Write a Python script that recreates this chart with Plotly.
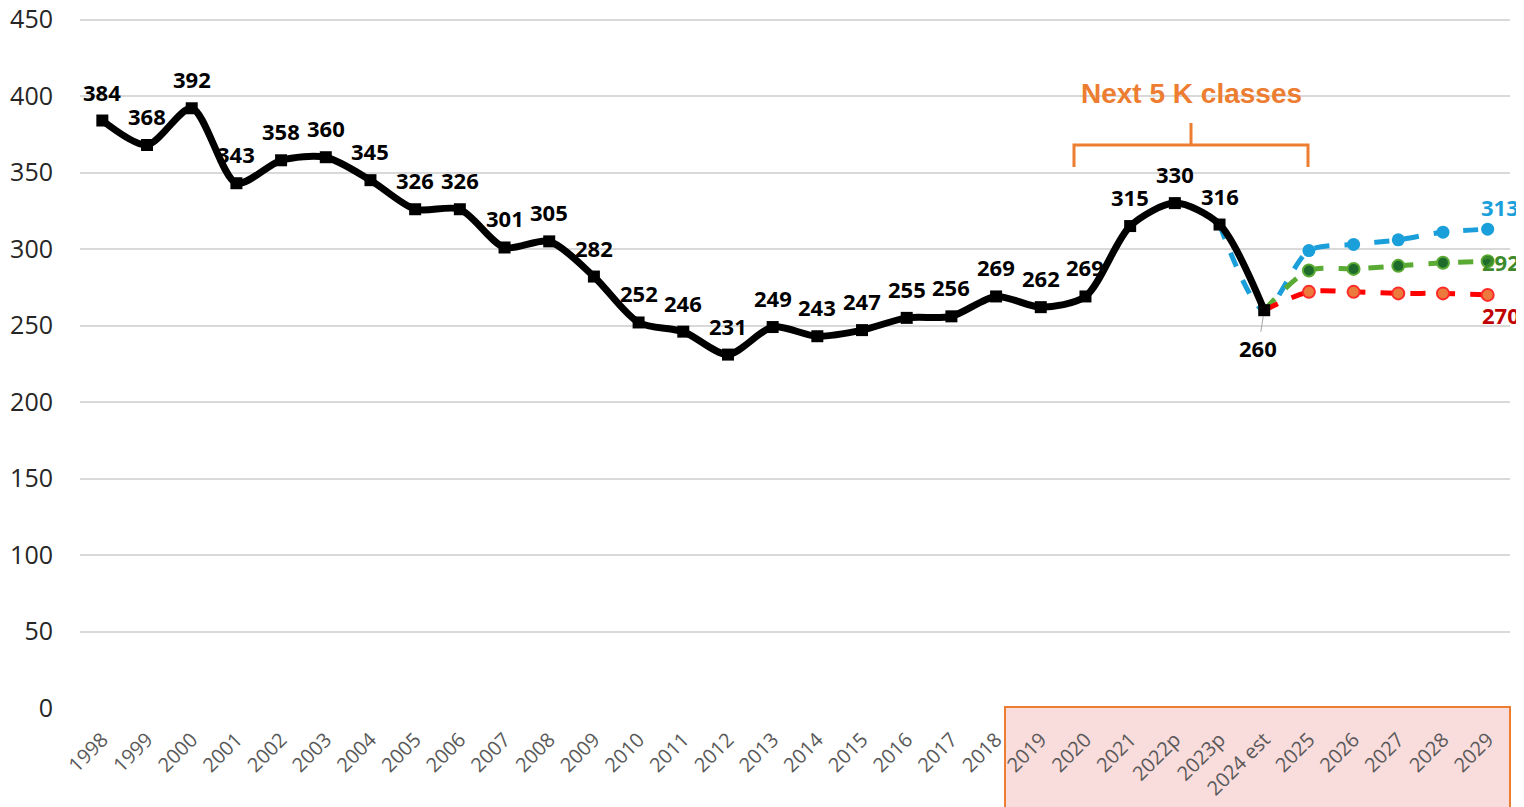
import plotly.graph_objects as go

years = ["1998", "1999", "2000", "2001", "2002", "2003", "2004", "2005", "2006", "2007",
         "2008", "2009", "2010", "2011", "2012", "2013", "2014", "2015", "2016", "2017",
         "2018", "2019", "2020", "2021", "2022p", "2023p", "2024 est",
         "2025", "2026", "2027", "2028", "2029"]

actual = [384, 368, 392, 343, 358, 360, 345, 326, 326, 301,
          305, 282, 252, 246, 231, 249, 243, 247, 255, 256,
          269, 262, 269, 315, 330, 316, 260]

proj_years = ["2023p", "2024 est", "2025", "2026", "2027", "2028", "2029"]
proj_high = [316, 260, 299, 303, 306, 311, 313]
proj_mid_years = ["2024 est", "2025", "2026", "2027", "2028", "2029"]
proj_mid = [260, 286, 287, 289, 291, 292]
proj_low = [260, 272, 272, 271, 271, 270]

# page body offset compensation (browser default 8px body margin)
OFF = 8
ML, MT, MB, MR = 80 - OFF, 10, 99 + OFF, 14 + OFF

fig = go.Figure()

fig.add_trace(go.Scatter(
    x=proj_years, y=proj_high, mode="lines+markers",
    line=dict(color="#1a9fdb", width=5, dash="dash", shape="spline", smoothing=0.8),
    marker=dict(symbol="circle", size=[0, 0, 13, 13, 13, 13, 13], color="#1a9fdb",
                opacity=1, line=dict(width=0)),
    showlegend=False, hoverinfo="skip"))
fig.add_trace(go.Scatter(
    x=proj_mid_years, y=proj_mid, mode="lines+markers",
    line=dict(color="#5aab34", width=5, dash="dash", shape="spline", smoothing=0.8),
    marker=dict(symbol="circle", size=[0, 12, 12, 12, 12, 12], color="#1f6b2b",
                opacity=1, line=dict(color="#5aab34", width=2)),
    showlegend=False, hoverinfo="skip"))
fig.add_trace(go.Scatter(
    x=proj_mid_years, y=proj_low, mode="lines+markers",
    line=dict(color="#ff0000", width=5, dash="dash", shape="spline", smoothing=0.8),
    marker=dict(symbol="circle", size=[0, 12, 12, 12, 12, 12], color="#eb7a3c",
                opacity=1, line=dict(color="#ff2a2a", width=2)),
    showlegend=False, hoverinfo="skip"))
fig.add_trace(go.Scatter(
    x=years[:len(actual)], y=actual, mode="lines+markers",
    line=dict(color="#000000", width=7, shape="spline", smoothing=0.8),
    marker=dict(symbol="square", size=12, color="#000000", opacity=1),
    showlegend=False, hoverinfo="skip"))

LBL = dict(family="Open Sans", size=22, color="#000000")
annotations = []
for i, yv in enumerate(actual):
    if years[i] == "2024 est":
        annotations.append(dict(x=i, y=yv, text=f"<b>{yv}</b>", showarrow=True,
                                arrowhead=0, arrowwidth=1, arrowcolor="#a6a6a6",
                                ax=-6, ay=38, standoff=6, font=LBL))
    else:
        annotations.append(dict(x=i, y=yv, text=f"<b>{yv}</b>", showarrow=False,
                                yshift=29, font=LBL))

last = len(years) - 1
annotations.append(dict(x=last, y=proj_high[-1], text=f"<b>{proj_high[-1]}</b>", showarrow=False,
                        xshift=12, yshift=22, xanchor="center",
                        font=dict(family="Open Sans", size=22, color="#1a9fdb")))
annotations.append(dict(x=last, y=proj_mid[-1], text=f"<b>{proj_mid[-1]}</b>", showarrow=False,
                        xshift=34, yshift=-1, xanchor="right",
                        font=dict(family="Open Sans", size=22, color="#3c8a2a")))
annotations.append(dict(x=last, y=proj_low[-1], text=f"<b>{proj_low[-1]}</b>", showarrow=False,
                        xshift=34, yshift=-20, xanchor="right",
                        font=dict(family="Open Sans", size=22, color="#c00000")))

PW = 1524 - ML - MR
PH = 807 - MT - MB


def px(xp):
    return (xp - OFF - ML) / PW


def py(yp):
    return (807 - MB - (yp - OFF)) / PH


annotations.append(dict(xref="paper", yref="paper", x=px(1191), y=py(93),
                        text="<b>Next 5 K classes</b>", showarrow=False,
                        xanchor="center", yanchor="middle",
                        font=dict(family="Liberation Sans", size=28, color="#ed7d31")))

shapes = [
    dict(type="rect", xref="paper", yref="paper", x0=px(1005), x1=px(1510),
         y0=py(840), y1=py(707), fillcolor="#f9dcdc", line=dict(color="#ed7d31", width=2),
         layer="below"),
    dict(type="path", xref="paper", yref="paper",
         path=f"M {px(1074)} {py(167)} L {px(1074)} {py(145)} L {px(1308)} {py(145)} L {px(1308)} {py(167)}",
         line=dict(color="#ed7d31", width=3)),
    dict(type="line", xref="paper", yref="paper", x0=px(1191), x1=px(1191),
         y0=py(145), y1=py(123), line=dict(color="#ed7d31", width=3)),
]

fig.update_layout(
    width=1524, height=807,
    margin=dict(l=ML, r=MR, t=MT, b=MB, autoexpand=False),
    plot_bgcolor="rgba(0,0,0,0)", paper_bgcolor="#ffffff",
    annotations=annotations, shapes=shapes,
    xaxis=dict(type="category", categoryorder="array", categoryarray=years,
               range=[-0.5, len(years) - 0.5], tickangle=-45, showgrid=False,
               showline=False, zeroline=False, ticks="", automargin=False,
               ticklabelstandoff=15, ticklabeloverflow="allow",
               tickfont=dict(family="Open Sans", size=20, color="#595959")),
    yaxis=dict(range=[0, 451], dtick=50, tick0=0, showgrid=True, gridcolor="#d9d9d9",
               gridwidth=2, zeroline=False, showline=False, ticks="", ticklabelstandoff=26,
               automargin=False, ticklabeloverflow="allow",
               tickfont=dict(family="Open Sans", size=25, color="#262626")),
)

fig.write_html("out.html")
